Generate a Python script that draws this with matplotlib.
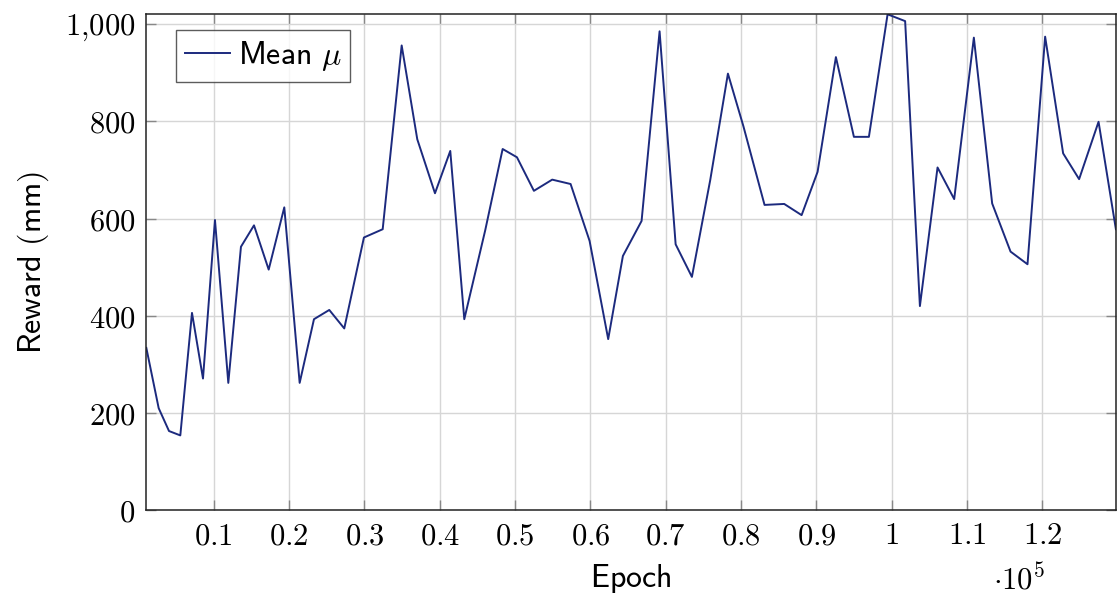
import matplotlib
matplotlib.use("Agg")
import matplotlib.pyplot as plt
from matplotlib.ticker import FixedLocator, FuncFormatter

plt.rcParams["mathtext.fontset"] = "cm"

# logged epochs and mean reward per evaluation
epochs = [1060, 2700, 4070, 5570, 7120, 8580, 10170, 11940, 13620, 15350,
          17300, 19370, 21410, 23310, 25340, 27330, 29940, 32430, 34950, 37020,
          39370, 41400, 43260, 46040, 48350, 50250, 52500, 54930, 57370, 59890,
          62360, 64310, 66790, 69180, 71310, 73470, 75900, 78250, 80300, 83110,
          85720, 88030, 90150, 92580, 94970, 96960, 99440, 101770, 103730, 106070,
          108280, 110890, 113320, 115760, 118010, 120350, 122740, 124860, 127440, 129740]
mean_reward = [334, 210, 163, 154, 406, 271, 597, 262, 542, 586,
               495, 623, 262, 393, 412, 374, 561, 578, 956, 763,
               652, 739, 393, 576, 743, 726, 657, 680, 671, 554,
               352, 523, 595, 985, 547, 480, 679, 898, 790, 628,
               630, 607, 696, 932, 768, 768, 1020, 1006, 420, 705,
               640, 972, 631, 532, 506, 974, 734, 681, 799, 578]

x_ticks = [10000 * i for i in range(1, 13)]
y_ticks = [0, 200, 400, 600, 800, 1000]

fig = plt.figure(figsize=(11.17, 5.96), dpi=100)
ax = fig.add_axes([0.131, 0.1438, 0.868, 0.8322])

ax.plot(epochs, mean_reward, color="#1c2a7e", lw=1.4, label=r"$\mathsf{Mean}\ \mu$")

ax.set_xlim(min(epochs), max(epochs))
ax.set_ylim(0, max(mean_reward))

ax.xaxis.set_major_locator(FixedLocator(x_ticks))
ax.yaxis.set_major_locator(FixedLocator(y_ticks))
ax.xaxis.set_major_formatter(FuncFormatter(lambda v, p: "$%g$" % (v / 1e5)))
ax.yaxis.set_major_formatter(FuncFormatter(
    lambda v, p: "$1{,}000$" if v == 1000 else "$%d$" % v))

ax.grid(True, color="#d6d6d6", lw=1.0)
ax.set_axisbelow(True)
ax.tick_params(direction="in", length=7, width=1.0, color="#888888",
               top=True, right=True, labelsize=22, pad=8)
for s in ax.spines.values():
    s.set_linewidth(1.1)
    s.set_color("#222222")

ax.set_xlabel(r"$\mathsf{Epoch}$", fontsize=23, labelpad=8)
ax.set_ylabel(r"$\mathsf{Reward\ (mm)}$", fontsize=23, labelpad=10)
# shared x multiplier below the last tick labels
ax.text(0.873, -0.16, r"$\cdot 10^5$", transform=ax.transAxes, fontsize=22,
        ha="left", va="baseline")

leg = ax.legend(loc="upper left", fontsize=23, frameon=True, fancybox=False,
                edgecolor="#333333", handlelength=1.4, borderpad=0.28,
                handletextpad=0.25, borderaxespad=0,
                bbox_to_anchor=(0.0306, 0.968))
leg.get_frame().set_linewidth(1.0)

fig.savefig("out.png", dpi=100)
